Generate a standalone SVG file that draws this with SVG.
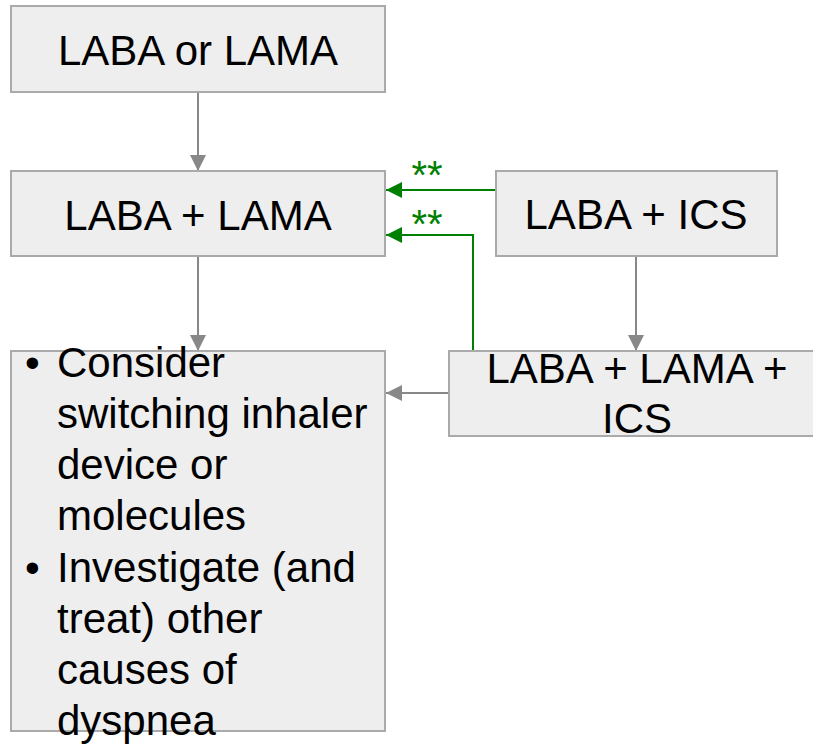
<svg xmlns="http://www.w3.org/2000/svg" width="813" height="744" viewBox="0 0 813 744">
<defs>
<style>
.box{fill:#eeeeee;stroke:#aaaaaa;stroke-width:2}
.t{font-family:"Liberation Sans",Arial,sans-serif;font-size:42px;fill:#000}
.c{text-anchor:middle}
.g{fill:none;stroke:#888888;stroke-width:2}
.gr{fill:none;stroke:#008000;stroke-width:2}
.st{font-family:"Liberation Sans",Arial,sans-serif;font-size:40px;fill:#008000;text-anchor:middle}
</style>
<marker id="ag" markerUnits="userSpaceOnUse" markerWidth="16" markerHeight="16" refX="16" refY="8" orient="auto"><path d="M0,0 L16,8 L0,16 Z" fill="#888888"/></marker>
<marker id="agr" markerUnits="userSpaceOnUse" markerWidth="16" markerHeight="16" refX="16" refY="8" orient="auto"><path d="M0,0 L16,8 L0,16 Z" fill="#008000"/></marker>
</defs>
<g id="connectors">
<path class="g" d="M198,92 V171" marker-end="url(#ag)"/>
<path class="g" d="M198,256 V351" marker-end="url(#ag)"/>
<path class="g" d="M636,256 V351" marker-end="url(#ag)"/>
<path class="g" d="M449,393 H386" marker-end="url(#ag)"/>
<path class="gr" d="M496,190 H386" marker-end="url(#agr)"/>
<path class="gr" d="M473,351 V235 H386" marker-end="url(#agr)"/>
<text class="st" x="427" y="189">**</text>
<text class="st" x="427" y="238">**</text>
</g>
<g id="n1"><rect class="box" x="11" y="6" width="374" height="86"/><text class="t c" x="198" y="65">LABA or LAMA</text></g>
<g id="n2"><rect class="box" x="11" y="171" width="374" height="85"/><text class="t c" x="198" y="230">LABA + LAMA</text></g>
<g id="n3"><rect class="box" x="496" y="171" width="281" height="85"/><text class="t c" x="636" y="229">LABA + ICS</text></g>
<g id="n4"><rect class="box" x="449" y="351" width="376" height="85"/><text class="t c" x="637" y="383">LABA + LAMA +</text><text class="t c" x="637" y="433">ICS</text></g>
<g id="n5"><rect class="box" x="11" y="351" width="374" height="380"/>
<text class="t" x="25" y="377">•</text>
<text class="t" x="57" y="377">Consider</text>
<text class="t" x="57" y="428">switching inhaler</text>
<text class="t" x="57" y="479">device or</text>
<text class="t" x="57" y="530">molecules</text>
<text class="t" x="25" y="582">•</text>
<text class="t" x="57" y="582">Investigate (and</text>
<text class="t" x="57" y="633">treat) other</text>
<text class="t" x="57" y="684">causes of</text>
<text class="t" x="57" y="735">dyspnea</text>
</g>
</svg>
